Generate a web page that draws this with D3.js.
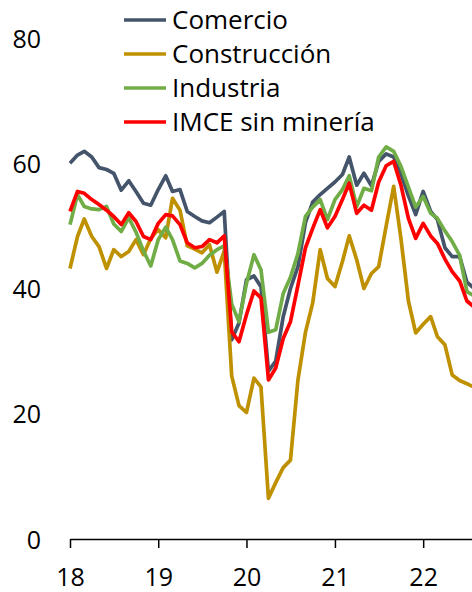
<!DOCTYPE html>
<html>
<head>
<meta charset="utf-8">
<script src="https://cdn.jsdelivr.net/npm/d3@7"></script>
<style>
  body { margin: 0; background: #fff; }
  .canvas text { font-family: 'Open Sans', sans-serif; }
</style>
</head>
<body>
<div class="canvas"></div>
<script>
// monthly data, Jan 2018 - Aug 2022
const months = d3.timeMonth.range(new Date(2018, 0, 1), new Date(2022, 8, 1));

const comercio = [60.0, 61.3, 61.9, 61.0, 59.3, 59.0, 58.4, 55.7, 57.2, 55.5,
    53.6, 53.3, 55.8, 58.0, 55.5, 55.8, 52.3, 51.5, 50.8, 50.5,
    51.4, 52.3, 31.8, 34.5, 41.4, 42.0, 40.3, 26.8, 28.4, 35.5,
    40.0, 43.5, 50.5, 53.8, 55.0, 56.0, 57.0, 58.2, 61.0, 56.5,
    58.4, 56.4, 60.3, 61.5, 61.0, 58.3, 54.8, 51.8, 55.5, 52.3,
    51.0, 46.5, 45.1, 45.1, 41.0, 40.0];

const construccion = [43.2, 48.3, 51.1, 48.3, 46.7, 43.2, 46.2, 45.1, 45.9, 47.8,
    45.4, 48.0, 49.4, 48.1, 54.4, 52.5, 46.8, 46.3, 45.7, 47.0,
    42.6, 46.0, 26.0, 21.3, 20.2, 25.7, 24.3, 6.5, 9.0, 11.4,
    12.6, 25.4, 33.0, 37.7, 46.2, 41.6, 40.3, 44.3, 48.4, 44.6,
    40.0, 42.4, 43.5, 50.0, 56.3, 48.0, 38.0, 32.9, 34.3, 35.5,
    32.3, 31.0, 26.2, 25.3, 24.8, 24.2];

const industria = [50.2, 55.0, 53.1, 52.7, 52.6, 53.1, 50.3, 49.1, 51.3, 49.0,
    46.0, 43.6, 47.8, 49.8, 47.8, 44.4, 44.0, 43.3, 44.0, 45.3,
    46.2, 46.8, 37.5, 34.7, 40.8, 45.4, 43.0, 33.0, 33.4, 39.2,
    41.8, 45.6, 51.5, 53.0, 54.2, 51.0, 54.2, 55.8, 58.0, 53.1,
    56.0, 55.6, 61.0, 62.6, 61.9, 59.5, 56.2, 53.0, 54.7, 52.0,
    51.2, 49.2, 47.5, 45.3, 39.5, 38.8];

const imce = [52.3, 55.5, 55.2, 54.2, 53.4, 52.5, 51.5, 50.2, 52.1, 50.7,
    48.3, 47.8, 50.4, 51.8, 51.6, 50.2, 47.3, 46.5, 46.7, 47.8,
    47.3, 48.4, 33.1, 31.5, 35.8, 39.6, 38.5, 25.4, 27.3, 32.0,
    34.7, 40.5, 46.5, 49.6, 52.6, 49.7, 51.5, 54.2, 56.8, 52.0,
    53.3, 52.5, 57.0, 59.6, 60.3, 56.5, 51.2, 48.0, 50.4, 48.4,
    47.2, 44.7, 42.7, 41.2, 38.0, 37.0];

const seriesNames = ['Comercio', 'Construcción', 'Industria', 'IMCE sin minería'];
const seriesColors = ['#44546A', '#BF9000', '#70AD47', '#FF0000'];
const yTicks = [0, 20, 40, 60, 80];
const xTicks = [2018, 2019, 2020, 2021, 2022].map(y => new Date(y, 0, 1));

const series = [comercio, construccion, industria, imce];

const width = 472, height = 592;

const svg = d3.select('.canvas')
    .append('svg')
    .attr('width', width)
    .attr('height', height);

// scales
const x = d3.scaleTime()
    .domain([new Date(2018, 0, 1), new Date(2022, 6, 22)])
    .range([70, 472]);

const y = d3.scaleLinear()
    .domain([0, 80])
    .range([539, 38]);

// clip the lines at the right edge
svg.append('clipPath').attr('id', 'plot')
    .append('rect')
    .attr('x', 0).attr('y', 0)
    .attr('width', 472).attr('height', 592);

// y axis labels only
const yAxis = d3.axisLeft(y).tickValues(yTicks).tickSize(0).tickPadding(0);
const yAxisGroup = svg.append('g')
    .attr('transform', 'translate(41,0)')
    .call(yAxis);
yAxisGroup.select('.domain').remove();
yAxisGroup.selectAll('text')
    .attr('font-size', 25)
    .attr('fill', '#000')
    .attr('x', 0)
    .attr('dy', '0.36em');

// x axis
const xAxis = d3.axisBottom(x)
    .tickValues(xTicks)
    .tickFormat(d3.timeFormat('%y'))
    .tickSizeInner(9)
    .tickSizeOuter(0);
const xAxisGroup = svg.append('g')
    .attr('transform', 'translate(0,539)')
    .call(xAxis);
xAxisGroup.select('.domain').attr('stroke', '#000').attr('stroke-width', 1.5);
xAxisGroup.selectAll('.tick line').attr('stroke', '#000').attr('stroke-width', 1.5);
xAxisGroup.selectAll('text')
    .attr('font-size', 25)
    .attr('fill', '#000')
    .attr('y', 47)
    .attr('dy', 0);

// lines
const line = d3.line()
    .x((d, i) => x(months[i]))
    .y(d => y(d));

svg.append('g')
    .attr('clip-path', 'url(#plot)')
    .selectAll('path')
    .data(series)
    .enter()
    .append('path')
    .attr('d', line)
    .attr('fill', 'none')
    .attr('stroke', (d, i) => seriesColors[i])
    .attr('stroke-width', 3.7)
    .attr('stroke-linejoin', 'round');

// legend
const legend = svg.append('g');
const rows = legend.selectAll('g')
    .data(seriesNames)
    .enter()
    .append('g')
    .attr('transform', (d, i) => `translate(0, ${20 + i * 34})`);

rows.append('line')
    .attr('x1', 124).attr('x2', 166)
    .attr('stroke', (d, i) => seriesColors[i])
    .attr('stroke-width', 3.5);

rows.append('text')
    .attr('x', 172)
    .attr('dy', '0.36em')
    .attr('font-size', 26)
    .attr('fill', '#000')
    .text(d => d);
</script>
</body>
</html>
